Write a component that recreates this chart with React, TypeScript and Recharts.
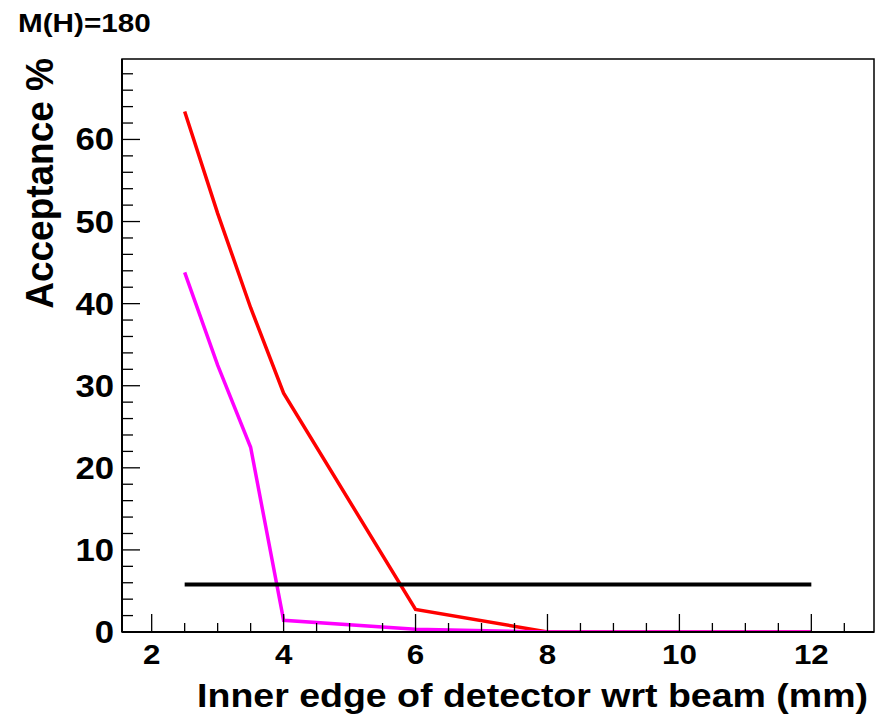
import { LineChart, Line, XAxis, YAxis, ReferenceArea, Label } from "recharts";

// inner edge positions (mm)
const edgeMm = [2.5, 3, 3.5, 4, 6, 8, 10, 12];
// acceptance (%) per edge position
const accRed = [63.4, 51.0, 39.5, 29.1, 2.75, 0, 0, 0];
const accMagenta = [43.8, 32.5, 22.5, 1.43, 0.33, 0, 0, 0];
// horizontal reference level
const refEdge = [2.5, 12];
const refAcc = [5.8, 5.8];

const xTicks = [2, 2.5, 3, 3.5, 4, 4.5, 5, 5.5, 6, 6.5, 7, 7.5, 8, 8.5, 9, 9.5, 10, 10.5, 11, 11.5, 12, 12.5];
const yTicks = [0, 2, 4, 6, 8, 10, 12, 14, 16, 18, 20, 22, 24, 26, 28, 30, 32, 34, 36, 38, 40, 42, 44, 46, 48, 50, 52, 54, 56, 58, 60, 62, 64, 66, 68];
const xDomain: [number, number] = [1.55, 12.95];
const yDomain: [number, number] = [0, 69.8];

const toPoints = (xs: number[], ys: number[]) => xs.map((x, i) => ({ x, y: ys[i] }));
const redData = toPoints(edgeMm, accRed);
const magentaData = toPoints(edgeMm, accMagenta);
const refData = toPoints(refEdge, refAcc);

const FONT = "'Liberation Sans', Arial, Helvetica, sans-serif";
const SX = 1.12;

type TickProps = { x: number; y: number; payload: { value: number } };

const XTick = ({ x, y, payload }: TickProps) => {
	const v = payload.value;
	const major = v % 2 === 0;
	return (
		<g>
			<line x1={x} x2={x} y1={y} y2={y - (major ? 18 : 9)} stroke="#000" strokeWidth={1.3} />
			{major && (
				<text
					transform={`translate(${x},${y + 32}) scale(${SX},1)`}
					textAnchor="middle"
					fontFamily={FONT}
					fontWeight="bold"
					fontSize={28}
					fill="#000"
				>
					{v}
				</text>
			)}
		</g>
	);
};

const YTick = ({ x, y, payload }: TickProps) => {
	const v = payload.value;
	const major = v % 10 === 0;
	return (
		<g>
			<line x1={x} x2={x + (major ? 18 : 11)} y1={y} y2={y} stroke="#000" strokeWidth={1.3} />
			{major && (
				<text
					transform={`translate(${x - 8},${y + 11}) scale(${SX},1)`}
					textAnchor="end"
					fontFamily={FONT}
					fontWeight="bold"
					fontSize={31}
					fill="#000"
				>
					{v}
				</text>
			)}
		</g>
	);
};

const XTitle = (props: any) => {
	const vb = props.viewBox;
	return (
		<text
			transform={`translate(${vb.x + vb.width - 6},${vb.y + 75}) scale(${SX},1)`}
			textAnchor="end"
			fontFamily={FONT}
			fontWeight="bold"
			fontSize={33.5}
			fill="#000"
		>
			Inner edge of detector wrt beam (mm)
		</text>
	);
};

const YTitle = () => (
	<text
		transform="translate(53,58) scale(1.06,1) rotate(-90)"
		textAnchor="end"
		fontFamily={FONT}
		fontWeight="bold"
		fontSize={37}
		fill="#000"
	>
		Acceptance %
	</text>
);

export default function App() {
	return (
		<div style={{ position: "absolute", left: 0, top: 0, width: 882, height: 719, background: "#fff" }}>
			<LineChart width={882} height={719} margin={{ top: 59, right: 8, bottom: 0, left: 0 }}>
				<XAxis
					type="number"
					dataKey="x"
					domain={xDomain}
					allowDataOverflow
					ticks={xTicks}
					interval={0}
					tickSize={0}
					tickMargin={0}
					tick={XTick}
					height={87}
					axisLine={{ stroke: "#000", strokeWidth: 2 }}
				>
					<Label content={XTitle} />
				</XAxis>
				<YAxis
					type="number"
					dataKey="y"
					domain={yDomain}
					allowDataOverflow
					ticks={yTicks}
					interval={0}
					tickSize={0}
					tickMargin={0}
					tick={YTick}
					width={122}
					axisLine={{ stroke: "#000", strokeWidth: 2 }}
				>
					<Label content={YTitle} />
				</YAxis>
				<ReferenceArea
					x1={xDomain[0]}
					x2={xDomain[1]}
					y1={yDomain[0]}
					y2={yDomain[1]}
					fill="none"
					stroke="#000"
					strokeWidth={1.5}
					ifOverflow="visible"
				/>
				<Line data={redData} dataKey="y" stroke="#ff0000" strokeWidth={3.5} dot={false} isAnimationActive={false} />
				<Line data={magentaData} dataKey="y" stroke="#ff00ff" strokeWidth={3.5} dot={false} isAnimationActive={false} />
				<Line data={refData} dataKey="y" stroke="#000" strokeWidth={4} dot={false} isAnimationActive={false} />
			</LineChart>
			<svg width={882} height={719} style={{ position: "absolute", left: 0, top: 0, pointerEvents: "none" }}>
				<text
					transform={`translate(18,32) scale(${SX},1)`}
					fontFamily={FONT}
					fontWeight="bold"
					fontSize={26.5}
					fill="#000"
				>
					M(H)=180
				</text>
			</svg>
		</div>
	);
}
